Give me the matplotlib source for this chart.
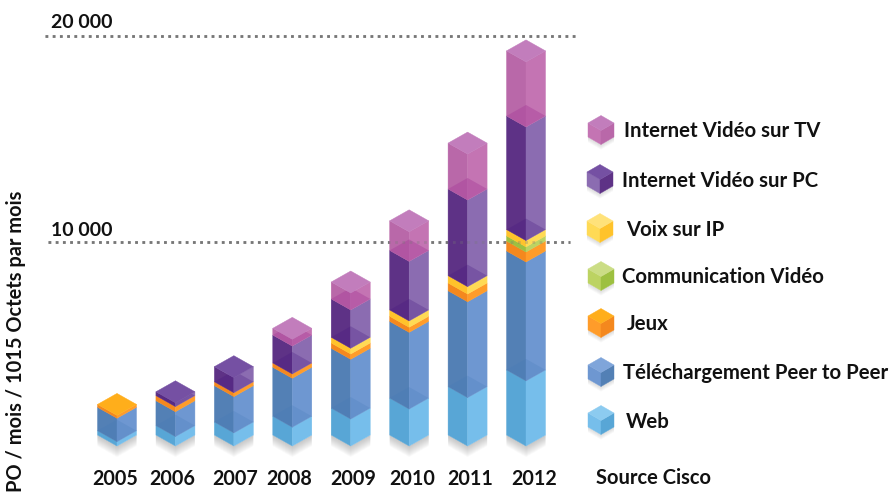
import matplotlib
matplotlib.use("Agg")
import matplotlib.pyplot as plt
from matplotlib.patches import Polygon

plt.rcParams["font.family"] = ["Lato", "DejaVu Sans"]

# =========================
# DADOS
# =========================
anos = ["2005", "2006", "2007", "2008", "2009", "2010", "2011", "2012"]
web = [210, 460, 640, 920, 1320, 1810, 2370, 3190]
p2p = [1150, 1220, 1780, 2400, 2930, 3760, 4700, 5830]
jeux = [140, 250, 190, 210, 260, 250, 380, 490]
comm = [0, 0, 0, 0, 0, 0, 0, 250]
voix = [0, 0, 0, 0, 280, 310, 360, 310]
pc = [0, 190, 740, 1370, 1880, 2920, 4250, 5570]
tv = [0, 0, 0, 330, 830, 1450, 2250, 3190]

series = [web, p2p, jeux, comm, voix, pc, tv]
noms = ["Web", "Téléchargement Peer to Peer", "Jeux", "Communication Vidéo",
        "Voix sur IP", "Internet Vidéo sur PC", "Internet Vidéo sur TV"]

# couleurs: gauche, droite, dessus, teinte interne
cores = [
    ("#58A6D6", "#76BEEB", "#8CCBF0", None),
    ("#5380B5", "#6E97D1", "#7FA5DA", ("#3F76B5", 0.2)),
    ("#F4881E", "#FF9C2A", "#FFAE1B", None),
    ("#9DC040", "#BCD362", "#CBDD85", None),
    ("#FFC32B", "#FFDA55", "#FFE27A", None),
    ("#5E3286", "#8B6CB1", "#7550A3", ("#45187F", 0.28)),
    ("#B968A9", "#C474B3", "#C27DBC", ("#A83F9A", 0.45)),
]

# legenda: centro x, centro y, x do texto, y do texto (pixels)
leg_ordem = [6, 5, 4, 3, 2, 1, 0]
leg_cx = [601, 600, 600, 601, 601, 601, 601]
leg_cy = [130, 179, 228, 276, 323, 372, 420]
leg_tx = [624, 622, 626, 622, 627, 623, 626]
leg_ty = [131, 181, 230, 277, 324, 373, 422]

ano_x = [115, 172, 235, 289, 353, 412, 470, 534]

W, H = 891, 492
PX_X = 58.43          # pixels por barra
X0 = 117
PX_V = 0.0204         # pixels por unidade
Y0 = 446
HW = 19.5 / PX_X
HH = 11 / PX_V

fig = plt.figure(figsize=(W / 100, H / 100), dpi=100, facecolor="white")
ax = fig.add_axes([0, 0, 1, 1])
ax.set_xlim((0 - X0) / PX_X, (W - X0) / PX_X)
ax.set_ylim((Y0 - H) / PX_V, Y0 / PX_V)
ax.axis("off")


def fig_txt(x, y, s, **kw):
    fig.text(x / W, 1 - y / H, s, fontweight="bold", color="#111111", **kw)


def poly(a, pts, cor, alpha=1.0, z=3, edge=True):
    a.add_patch(Polygon(pts, closed=True, facecolor=cor, alpha=alpha, zorder=z,
                        edgecolor=cor if edge else "none", linewidth=0.3 if edge else 0))


# lignes pointillées
for val, x1, x2 in [(20100, 45, 575), (10000, 48, 570)]:
    xs = [(x1 - X0) / PX_X, (x2 - X0) / PX_X]
    ax.plot(xs, [val, val], color="#777777", lw=2, ls=(0, (1, 1.6)), zorder=1)
    ax.plot(xs, [val, val], color="#777777", lw=2, ls=(0, (1, 1.6)), alpha=0.3, zorder=8)

# barres
for i in range(len(anos)):
    # ombre
    for d in range(1, 12):
        dv = d / PX_V
        poly(ax, [(i - HW, HH), (i, 0), (i + HW, HH), (i + HW, HH - dv), (i, -dv), (i - HW, HH - dv)],
             "#666666", alpha=0.035, z=2, edge=False)

    base = 0
    dernier = None
    rhombes = []
    for s, valores in enumerate(series):
        v = valores[i]
        if v == 0:
            continue
        topo = base + v
        esq, dir_, dessus, interne = cores[s]
        poly(ax, [(i - HW, base + HH), (i, base), (i, topo), (i - HW, topo + HH)], esq)
        poly(ax, [(i, base), (i + HW, base + HH), (i + HW, topo + HH), (i, topo)], dir_)
        if interne is not None and base > 0:
            rhombes.append((base, interne))
        base = topo
        dernier = s
    for b, (c_int, a_int) in rhombes:
        poly(ax, [(i - HW, b + HH), (i, b), (i + HW, b + HH), (i, b + 2 * HH)],
             c_int, alpha=a_int, z=4, edge=False)
    poly(ax, [(i - HW, base + HH), (i, base), (i + HW, base + HH), (i, base + 2 * HH)],
         cores[dernier][2], z=5)

# cubes de la légende (axes en pixels)
ax_px = fig.add_axes([0, 0, 1, 1], facecolor="none")
ax_px.set_xlim(0, W)
ax_px.set_ylim(H, 0)
ax_px.axis("off")

for k, s in enumerate(leg_ordem):
    cx, cy = leg_cx[k], leg_cy[k]
    esq, dir_, dessus, _ = cores[s]
    hw, hh, haut = 13, 7.5, 14
    yt = cy - haut / 2
    for d in range(1, 6):
        poly(ax_px, [(cx - hw, yt + haut), (cx, yt + haut + hh), (cx + hw, yt + haut),
                     (cx + hw, yt + haut + d), (cx, yt + haut + hh + d), (cx - hw, yt + haut + d)],
             "#777777", alpha=0.05, z=2, edge=False)
    # dans la légende la face claire est à gauche
    poly(ax_px, [(cx - hw, yt), (cx, yt + hh), (cx, yt + hh + haut), (cx - hw, yt + haut)], dir_)
    poly(ax_px, [(cx, yt + hh), (cx + hw, yt), (cx + hw, yt + haut), (cx, yt + hh + haut)], esq)
    poly(ax_px, [(cx - hw, yt), (cx, yt - hh), (cx + hw, yt), (cx, yt + hh)], dessus)
    fig_txt(leg_tx[k], leg_ty[k], noms[s], fontsize=14.7, ha="left", va="center")

# textes
for x, a in zip(ano_x, anos):
    fig_txt(x, 479, a, fontsize=14.2, ha="center", va="center")
fig_txt(596, 478, "Source Cisco", fontsize=14.5, ha="left", va="center")
fig_txt(51, 22, "20 000", fontsize=14, ha="left", va="center")
fig_txt(51, 230, "10 000", fontsize=14, ha="left", va="center")
fig_txt(16, 492, "PO / mois / 1015 Octets par mois", fontsize=14.4, rotation=90,
        ha="center", va="bottom")

plt.savefig("out.png", dpi=100)
